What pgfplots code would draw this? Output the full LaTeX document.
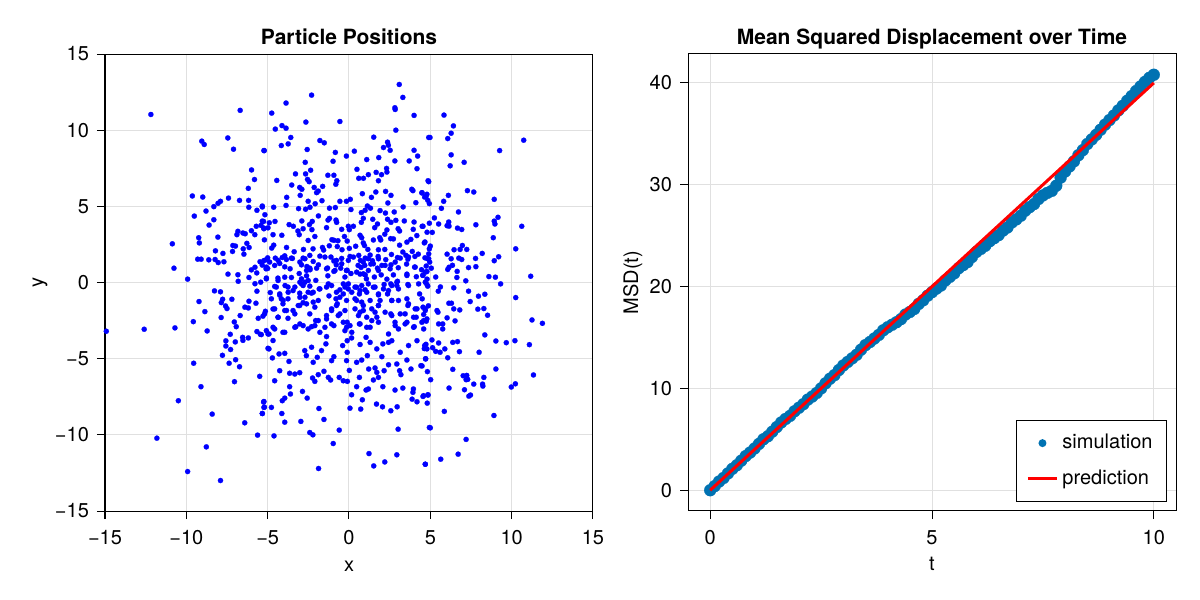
\documentclass[border=0pt]{standalone}
\usepackage{fontspec}
\setmainfont{TeX Gyre Heros}
\usepackage{pgfplots}
\pgfplotsset{compat=1.18}
\definecolor{wong}{RGB}{0,114,178}
\newcommand{\fs}{\fontsize{10}{12}\selectfont}
\pgfplotsset{
  makie/.style={
    scale only axis, width=244pt, height=228.5pt,
    axis line style={black, line width=0.5pt},
    tick align=outside, tick pos=left, major tick length=4pt,
    major tick style={black, line width=0.5pt},
    grid=major, major grid style={black!12, line width=0.5pt},
    tick label style={font=\fs, text=black},
    xticklabel style={anchor=north, inner sep=0pt, yshift=-5.5pt},
    yticklabel style={anchor=east, inner sep=0pt, xshift=-3.85pt},
    every axis x label/.style={at={(rel axis cs:0.5,0)}, yshift=-30pt, anchor=base, font=\fs},
    every axis title/.style={at={(rel axis cs:0.5,1)}, yshift=4.9pt, anchor=base, font=\fontsize{10.5}{12}\selectfont\bfseries},
  }
}
\begin{document}
\begin{tikzpicture}
\path[use as bounding box] (0,0) rectangle (600pt,300pt);
\begin{axis}[makie, at={(52.5pt,44.5pt)}, anchor=south west,
  xmin=-15, xmax=15, ymin=-15, ymax=15,
  xtick={-15,-10,-5,0,5,10,15}, xticklabels={−15,−10,−5,0,5,10,15},
  ytick={-15,-10,-5,0,5,10,15}, yticklabels={−15,−10,−5,0,5,10,15},
  title={Particle Positions}, xlabel={x}, ylabel={y},
  every axis y label/.style={at={(rel axis cs:0,0.5)}, xshift=-31pt, rotate=90, anchor=base, font=\fs},
]
\addplot[only marks, mark=*, mark size=1.3pt, mark options={draw=blue, fill=blue, line width=0.1pt}] table {
x y
-12.18 11.03
-6.69 11.30
-9.05 9.28
-8.90 9.06
-7.45 9.49
-7.10 8.75
-5.23 8.66
-5.99 7.39
-5.81 6.76
-6.19 6.18
-9.63 5.68
-8.99 5.61
-7.41 5.54
-6.73 5.39
-6.17 5.39
-8.31 4.98
-8.05 5.20
-7.90 5.33
-8.79 4.69
-9.51 4.36
-6.16 4.94
-5.66 4.74
-5.33 4.96
-8.31 4.12
-8.60 3.77
-5.25 4.01
-5.41 3.75
-5.25 3.58
-5.70 3.69
-6.00 3.40
-5.79 3.14
-6.83 3.36
-6.89 3.14
-6.52 3.25
-6.38 3.20
-9.24 2.94
-9.20 2.60
-8.06 2.98
-10.86 2.54
-7.14 2.43
-6.98 2.39
-6.28 2.57
-6.14 2.30
-6.50 2.21
-5.20 2.80
-8.21 2.08
-7.16 2.04
-7.75 1.91
-6.46 1.86
-9.30 1.53
-9.09 1.53
-8.62 1.49
-8.23 1.51
-8.04 1.31
-7.69 1.36
-5.47 1.36
-5.23 1.44
-5.00 1.62
-10.76 0.94
-7.44 0.55
-6.83 0.51
-5.78 1.00
-6.00 0.83
-5.67 0.63
-5.10 0.90
-6.15 0.33
-9.92 0.22
-6.81 0.08
-5.78 -0.08
-5.43 0.02
-8.27 -0.55
-7.90 -0.61
-9.22 -1.25
-8.86 -1.91
-7.85 -1.32
-7.77 -1.10
-7.59 -1.54
-7.50 -1.71
-7.20 -1.10
-6.15 -1.23
-6.40 -1.62
-6.19 -1.67
-5.72 -1.36
-5.66 -0.57
-6.69 -2.17
-7.86 -2.30
-7.05 -2.59
-6.93 -2.90
-5.58 -2.35
-5.29 -2.21
-5.14 -1.89
-9.57 -2.57
-8.72 -3.18
-10.70 -2.98
-12.59 -3.07
-14.92 -3.20
-7.30 -3.40
-7.57 -3.83
-7.57 -4.17
-6.99 -3.90
-7.28 -4.40
-6.54 -3.60
-6.52 -3.80
-6.19 -3.64
-5.66 -3.22
-5.45 -3.40
-4.98 -3.38
-4.98 -4.32
-7.78 -4.78
-7.37 -5.30
-6.97 -5.07
-6.73 -5.53
-9.55 -5.30
-9.10 -6.84
-7.04 -6.51
-5.49 -6.16
-10.49 -7.76
-8.41 -8.64
-6.41 -9.21
-5.33 -8.60
-5.25 -7.85
-5.20 -8.18
-5.62 -10.02
-11.81 -10.22
-8.77 -10.79
-9.92 -12.41
-7.90 -13.00
5.84 10.99
6.42 10.28
6.28 9.80
6.07 9.45
4.98 9.52
10.74 9.34
9.26 8.66
6.28 8.38
6.22 7.66
7.08 7.89
4.90 6.62
7.28 6.03
7.67 5.94
6.11 5.72
5.82 5.33
4.49 5.90
4.79 5.79
4.65 5.61
4.84 5.40
4.94 5.18
8.93 5.46
5.68 4.87
6.73 4.63
5.25 4.24
5.51 3.84
4.94 3.89
4.55 3.69
6.13 3.97
6.03 3.73
6.15 3.70
6.67 3.57
6.93 3.48
7.80 3.79
9.16 4.28
8.93 4.03
8.97 3.84
10.62 3.69
5.12 3.29
8.87 2.94
4.63 2.60
5.00 2.39
4.94 2.21
6.46 2.15
6.83 2.17
6.97 2.43
7.24 2.17
8.19 1.91
6.03 1.86
6.28 1.56
6.75 1.60
6.93 1.51
7.78 1.58
9.20 1.69
8.93 1.43
10.25 2.21
4.83 1.56
4.96 1.34
5.06 0.94
4.79 0.72
4.55 0.47
5.33 0.36
6.15 1.00
6.36 1.13
6.07 0.86
6.65 0.73
7.35 0.98
7.80 1.04
6.63 0.33
7.18 0.11
8.60 0.39
9.00 0.35
11.17 0.41
9.32 -0.09
4.84 -0.24
5.62 -0.29
5.49 -0.57
6.44 -0.35
7.35 -0.57
7.96 -0.90
8.35 -0.77
10.25 -0.99
7.45 -1.25
6.14 -1.36
6.30 -1.36
4.88 -1.53
4.55 -1.62
5.41 -1.84
5.47 -1.95
6.44 -1.73
6.81 -1.80
7.92 -1.75
8.29 -1.71
8.52 -2.15
6.03 -2.32
4.59 -2.10
4.75 -2.54
5.51 -2.72
5.76 -2.72
5.76 -3.05
6.52 -2.52
11.25 -2.46
11.89 -2.68
8.35 -3.44
5.10 -3.77
4.73 -4.06
4.63 -4.34
5.14 -4.28
5.51 -3.97
5.33 -4.52
5.60 -4.58
5.89 -4.36
6.38 -3.93
6.67 -3.88
6.79 -4.54
8.00 -4.58
9.03 -3.84
9.67 -3.95
10.20 -3.82
11.09 -4.08
4.71 -5.00
6.07 -4.94
4.49 -5.48
4.82 -5.85
5.02 -6.38
6.38 -5.70
7.02 -6.12
7.24 -6.10
7.20 -6.38
7.30 -6.36
7.67 -6.67
8.29 -6.23
8.21 -6.67
8.23 -6.80
9.03 -5.68
9.98 -6.86
10.23 -6.65
11.34 -6.07
6.15 -6.93
7.10 -7.04
7.37 -7.46
7.47 -7.39
4.55 -7.48
4.86 -7.39
4.81 -7.92
5.86 -8.46
8.91 -8.73
5.00 -9.54
7.20 -10.30
6.71 -11.27
5.64 -11.60
4.69 -11.93
3.09 13.00
3.31 12.15
2.82 11.47
2.84 11.36
4.00 10.97
2.88 10.00
-2.30 12.30
-3.87 11.78
-4.75 11.12
-2.65 10.53
-0.56 10.57
-4.53 10.07
-4.12 10.30
-3.87 10.13
-3.58 9.52
-4.16 8.99
-3.74 9.10
-5.21 8.66
-1.79 9.32
-1.52 9.17
-2.57 8.73
-0.84 8.54
-0.16 8.30
0.33 8.62
1.52 9.54
2.37 9.21
2.12 8.86
2.53 8.68
2.42 9.01
4.90 9.52
4.00 8.68
4.22 8.30
3.70 7.98
2.82 7.98
1.83 8.20
1.09 8.07
-2.69 7.89
-0.98 7.96
-3.29 7.13
-2.67 7.13
-2.36 7.37
-1.30 7.04
-0.93 7.04
0.49 7.43
0.60 6.84
0.89 6.84
1.19 7.08
1.67 7.23
2.00 7.08
2.31 7.49
2.33 7.25
1.81 6.68
4.18 7.47
4.86 6.68
-4.44 6.70
-2.55 6.77
-2.45 6.62
-0.75 6.68
-0.81 6.45
-3.52 6.40
-3.03 6.24
-2.90 6.12
-2.14 6.24
-1.62 6.31
-1.89 6.00
-1.99 5.90
-3.00 5.72
-3.83 5.59
-3.87 5.06
-2.51 5.33
-2.08 5.17
-1.66 5.37
-0.56 5.33
-0.16 5.33
0.08 5.46
0.82 5.83
1.38 5.59
1.65 5.94
2.25 5.98
2.58 5.72
2.39 5.22
3.86 6.12
3.93 6.03
4.48 5.88
4.73 5.64
4.11 5.24
-5.33 5.02
-4.63 4.94
-3.10 4.85
-2.67 4.81
-2.40 4.94
-1.20 4.88
-0.84 4.92
0.12 4.79
0.76 4.59
0.99 4.74
1.13 5.02
1.32 4.88
1.91 4.72
2.24 4.56
2.78 4.63
3.33 4.96
-5.17 4.45
-5.33 4.03
-4.55 4.01
-4.90 3.92
-4.98 3.59
-3.68 3.80
-3.42 3.69
-2.90 4.04
-2.82 3.53
-2.43 3.80
-2.26 4.01
-1.88 4.37
-1.29 4.10
-1.20 4.21
-0.80 4.10
-0.76 3.95
-0.45 3.49
-1.38 3.60
-0.04 3.69
0.02 3.47
0.27 3.69
0.76 3.95
0.88 4.21
1.46 4.15
1.75 3.84
1.58 3.60
2.37 4.15
2.58 3.95
2.88 4.08
2.33 3.45
2.20 3.17
3.02 3.53
3.11 3.38
3.40 4.04
4.00 3.97
3.95 3.49
4.50 3.69
4.17 3.08
4.80 3.30
-5.23 3.53
-4.67 3.14
-4.13 3.10
-3.14 3.38
-3.06 3.14
-2.28 3.47
-2.10 3.02
-2.51 2.76
-1.05 2.81
-0.92 2.77
-0.68 2.74
-0.28 3.02
-0.11 2.72
0.68 3.10
0.78 2.94
0.88 2.60
0.95 2.43
1.50 2.79
1.89 2.94
1.95 2.79
2.56 2.88
2.73 2.86
3.11 2.45
3.56 2.65
3.80 2.83
4.67 2.66
-4.63 2.45
-4.75 2.26
-3.84 2.30
-3.37 2.02
-2.80 2.17
-2.21 2.21
-1.63 2.30
-1.56 2.13
-1.21 2.41
-0.72 2.36
-0.43 2.15
0.02 2.24
0.41 2.38
1.16 2.17
1.30 1.80
1.81 2.15
2.20 2.17
2.61 1.84
3.31 2.00
3.89 2.04
4.05 1.71
4.26 1.86
-5.08 1.50
-4.53 1.60
-4.10 1.64
-3.95 1.75
-3.48 1.58
-2.82 1.60
-2.41 1.78
-1.79 1.73
-1.11 1.67
-0.93 1.41
-0.45 1.58
0.06 1.71
0.60 1.78
0.70 1.45
1.00 1.60
1.44 1.43
1.79 1.71
2.26 1.50
2.98 1.64
3.50 1.78
3.62 1.53
4.67 1.62
4.90 1.88
-5.33 1.14
-5.00 0.92
-4.57 1.12
-4.26 1.25
-3.95 1.03
-3.62 0.90
-2.92 1.16
-2.59 1.05
-2.39 0.84
-1.88 1.16
-1.32 0.95
-0.78 1.16
-0.51 0.94
-0.11 0.80
0.56 1.12
0.74 0.99
0.97 1.12
1.34 1.21
1.75 0.94
2.02 1.12
2.58 1.16
3.03 0.97
3.54 1.21
4.03 1.01
4.46 0.84
4.75 1.08
-5.08 0.29
-4.37 0.29
-3.54 0.33
-3.06 0.59
-2.61 0.44
-2.04 0.14
-1.30 0.44
-0.93 0.73
-0.25 0.36
0.12 0.59
0.68 0.55
1.00 0.50
1.07 0.24
1.56 0.36
1.98 0.50
2.33 0.22
2.73 0.50
2.98 0.08
3.56 0.55
4.14 0.38
4.53 0.47
4.80 0.22
-4.57 -0.26
-3.93 -0.20
-4.84 -0.66
-4.26 -0.83
-3.74 -0.64
-3.44 -0.53
-2.92 -0.09
-3.03 -0.70
-2.41 -0.24
-2.30 -0.70
-1.83 -0.42
-1.27 -0.09
-1.23 -0.88
-0.56 -0.48
-0.35 -0.09
-0.04 -0.42
0.47 -0.31
0.64 -0.75
0.99 -0.48
1.50 -0.31
1.81 -0.81
2.16 -0.13
2.37 -0.75
2.57 -0.09
2.94 -0.20
3.62 -0.13
4.28 -0.09
4.34 -0.75
4.79 -0.13
-5.19 -2.06
-4.67 -1.74
-4.36 -2.28
-4.05 -1.18
-3.84 -1.84
-3.33 -2.06
-3.03 -1.51
-2.82 -1.32
-3.27 -2.90
-2.41 -2.06
-2.30 -2.90
-2.82 -2.83
-2.20 -1.29
-2.05 -2.50
-1.79 -3.27
-1.38 -2.39
-1.07 -1.73
-0.93 -2.83
-0.72 -1.40
-0.56 -2.06
-0.80 -1.07
-0.25 -3.16
-0.11 -2.61
0.47 -1.18
0.68 -1.95
0.88 -1.51
0.64 -2.72
1.09 -2.94
1.40 -2.50
1.60 -1.95
1.81 -1.51
1.91 -1.18
2.63 -1.18
2.57 -2.06
2.83 -2.61
3.15 -2.06
3.56 -2.61
3.62 -1.51
4.07 -1.73
4.01 -2.90
4.13 -2.28
4.69 -1.84
4.48 -2.61
4.79 -2.39
-5.39 -3.42
-4.92 -3.38
-4.57 -3.05
-4.06 -3.27
-4.67 -3.81
-4.92 -4.36
-4.30 -4.69
-3.95 -4.65
-4.71 -4.95
-3.69 -5.18
-2.72 -4.47
-2.62 -4.80
-2.30 -4.25
-2.20 -5.24
-1.95 -4.91
-1.69 -4.47
-1.42 -4.03
-1.38 -3.55
-1.07 -5.13
-0.93 -4.87
-0.39 -4.14
-0.11 -4.58
-0.15 -5.13
-0.11 -3.82
0.16 -3.64
0.68 -4.07
1.05 -3.60
1.30 -3.93
0.47 -5.24
0.78 -5.09
1.13 -4.80
1.71 -4.36
2.08 -4.03
2.43 -3.93
2.63 -3.82
2.02 -4.87
2.43 -5.40
1.21 -5.68
1.60 -5.61
1.71 -5.90
2.16 -5.79
1.81 -6.23
1.50 -6.40
3.11 -5.79
3.19 -6.05
2.94 -5.35
3.56 -5.09
3.81 -5.68
4.42 -5.46
4.71 -5.02
4.18 -3.82
4.65 -4.14
4.79 -4.36
3.66 -4.14
3.15 -4.58
-4.26 -5.79
-3.65 -5.96
-3.33 -6.01
-3.03 -5.92
-4.57 -6.45
-3.65 -6.84
-3.60 -7.32
-2.86 -7.15
-2.24 -6.27
-2.10 -6.49
-1.89 -6.05
-1.54 -5.83
-1.27 -6.23
-1.13 -6.40
-0.60 -6.23
-0.35 -6.45
-0.10 -6.49
0.02 -5.77
0.64 -6.23
0.47 -6.84
1.05 -7.06
1.19 -6.99
2.08 -6.84
2.83 -7.06
3.31 -6.93
3.96 -6.99
3.93 -7.21
4.58 -7.43
4.85 -7.37
4.18 -7.83
3.88 -7.66
0.16 -7.37
0.82 -7.70
0.72 -8.31
0.06 -8.25
1.69 -7.98
2.06 -8.16
2.57 -8.42
2.96 -8.16
-2.57 -7.59
-3.95 -7.59
-4.10 -7.76
-5.23 -7.81
-5.23 -8.20
-4.77 -8.20
-5.33 -8.60
-4.13 -8.60
-3.95 -9.17
-1.85 -8.27
-1.54 -8.99
-2.96 -9.12
-2.41 -9.85
-2.22 -10.00
-0.60 -9.69
-0.97 -10.57
-4.61 -10.07
3.02 -9.63
4.94 -9.52
1.23 -11.23
1.52 -12.04
2.20 -11.78
2.94 -11.31
4.69 -11.93
-1.87 -12.21
-5.08 1.01
-4.88 1.34
-4.36 1.45
-3.85 1.51
-3.54 1.60
-3.02 1.34
-2.71 1.56
-2.20 1.38
-2.41 0.94
-2.61 0.79
-1.99 0.94
-1.48 1.67
-1.38 0.90
-0.77 1.45
-0.45 1.23
-0.86 0.79
-0.15 0.79
-5.08 0.24
-4.36 0.13
-3.95 0.35
-3.75 -0.30
-3.33 -0.30
-3.02 0.02
-2.92 0.24
-2.71 0.02
-2.51 0.13
-2.82 -0.20
-1.79 -0.42
-2.20 -0.64
-2.51 -0.64
-4.47 -0.30
-4.26 -0.75
-4.16 -1.07
-3.75 -1.07
-4.77 -1.07
-4.06 -1.40
-3.02 -0.97
-2.71 -0.97
-3.12 -1.51
-3.44 -1.84
-3.95 -1.84
-4.57 -1.73
-4.36 -2.28
-3.75 -2.35
-4.67 -2.94
-2.61 -1.40
-2.10 -1.62
-1.89 -1.18
-1.38 -0.30
-1.07 -0.20
-0.77 -0.64
-0.56 -0.97
-0.25 -0.30
-0.35 -0.75
-0.77 -1.51
-1.07 -1.84
-1.38 -2.17
-1.89 -2.50
-2.10 -2.83
-2.51 -3.05
-3.02 -2.72
-3.33 -2.94
-1.48 -2.94
-1.07 -2.72
-0.66 -2.17
-0.25 -1.84
-0.15 -2.94
-0.35 -2.61
-3.95 -3.27
-5.08 -3.16
-0.04 1.45
0.27 1.67
0.88 1.34
1.19 1.56
1.50 1.23
1.81 1.56
2.22 1.12
2.53 0.90
2.84 1.34
3.15 1.60
3.66 1.67
4.07 1.01
4.69 0.68
4.90 1.56
-0.15 0.79
0.47 0.68
0.88 0.57
1.19 0.79
1.81 0.79
2.94 0.02
3.56 0.46
4.69 0.02
-0.04 -0.09
0.37 -0.30
0.78 -0.20
1.19 -0.09
1.60 -0.30
2.12 -0.42
2.63 -0.20
0.17 -0.64
0.68 -0.53
1.09 -0.64
1.81 -0.75
2.43 -0.53
3.04 -0.42
3.66 -0.20
-0.15 -1.18
0.37 -1.07
0.78 -1.29
1.30 -1.18
2.63 -1.18
3.04 -1.18
3.56 -1.07
4.50 -1.07
0.37 -1.73
0.88 -1.84
1.40 -1.73
1.81 -1.51
3.66 -1.40
4.18 -1.73
4.69 -1.73
0.58 -2.17
1.09 -2.28
1.71 -2.28
2.22 -1.95
2.63 -2.17
3.45 -2.06
3.97 -2.28
4.59 -2.50
0.06 -2.83
0.68 -2.72
1.30 -2.94
1.81 -2.61
2.84 -2.83
3.04 -3.05
3.45 -2.72
3.97 -2.94
4.59 -3.05
2.43 -3.38
0.17 -3.27
};
\end{axis}
\begin{axis}[makie, at={(344pt,44.5pt)}, anchor=south west,
  xmin=-0.5, xmax=10.5, ymin=-2.04, ymax=42.84,
  xtick={0,5,10}, xticklabels={0,5,10},
  ytick={0,10,20,30,40}, yticklabels={0,10,20,30,40},
  title={Mean Squared Displacement over Time}, xlabel={t}, ylabel={MSD(t)},
  every axis y label/.style={at={(rel axis cs:0,0.5)}, xshift=-25pt, rotate=90, anchor=base, font=\fs},
  clip marker paths=true,
  legend cell align=left,
  legend style={at={(rel axis cs:1,0)}, anchor=south east, xshift=-4.5pt, yshift=4.5pt,
    draw=black, line width=0.5pt, fill=white, font=\fs,
    inner xsep=5pt, inner ysep=5pt, row sep=5pt},
]
\addplot[only marks, mark=*, mark size=3pt, mark options={draw=wong, fill=wong, line width=0.1pt},
  legend image code/.code={\path[draw=none] (0pt,0pt) -- (14.5pt,0pt); \fill[wong, draw=none] (7.25pt,0pt) circle (2pt);}] table {
t m
0.0 0.00
0.1 0.40
0.2 0.85
0.3 1.20
0.4 1.65
0.5 2.10
0.6 2.45
0.7 2.90
0.8 3.35
0.9 3.70
1.0 4.10
1.1 4.55
1.2 5.00
1.3 5.30
1.4 5.75
1.5 6.20
1.6 6.65
1.7 7.00
1.8 7.30
1.9 7.75
2.0 8.10
2.1 8.45
2.2 8.90
2.3 9.20
2.4 9.55
2.5 10.00
2.6 10.50
2.7 10.95
2.8 11.30
2.9 11.80
3.0 12.25
3.1 12.60
3.2 12.95
3.3 13.30
3.4 13.80
3.5 14.25
3.6 14.55
3.7 14.90
3.8 15.25
3.9 15.70
4.0 16.00
4.1 16.25
4.2 16.50
4.3 16.80
4.4 17.25
4.5 17.50
4.6 17.80
4.7 18.30
4.8 18.65
4.9 19.10
5.0 19.45
5.1 19.80
5.2 20.10
5.3 20.60
5.4 20.95
5.5 21.30
5.6 21.80
5.7 22.10
5.8 22.40
5.9 22.90
6.0 23.40
6.1 23.70
6.2 24.00
6.3 24.45
6.4 24.75
6.5 25.05
6.6 25.50
6.7 25.80
6.8 26.30
6.9 26.60
7.0 26.95
7.1 27.45
7.2 27.80
7.3 28.10
7.4 28.60
7.5 28.95
7.6 29.20
7.7 29.40
7.8 29.90
7.9 30.70
8.0 31.30
8.1 31.80
8.2 32.30
8.3 32.90
8.4 33.40
8.5 34.00
8.6 34.45
8.7 34.90
8.8 35.40
8.9 35.90
9.0 36.35
9.1 36.80
9.2 37.30
9.3 37.75
9.4 38.25
9.5 38.70
9.6 39.20
9.7 39.65
9.8 40.10
9.9 40.50
10.0 40.80
};
\addlegendentry{simulation}
\addplot[red, line width=1.5pt,
  legend image code/.code={\draw[red, line width=1.5pt] (0pt,0pt) -- (14.5pt,0pt);}] coordinates {(0,0) (10,40)};
\addlegendentry{prediction}
\end{axis}
\end{tikzpicture}
\end{document}
